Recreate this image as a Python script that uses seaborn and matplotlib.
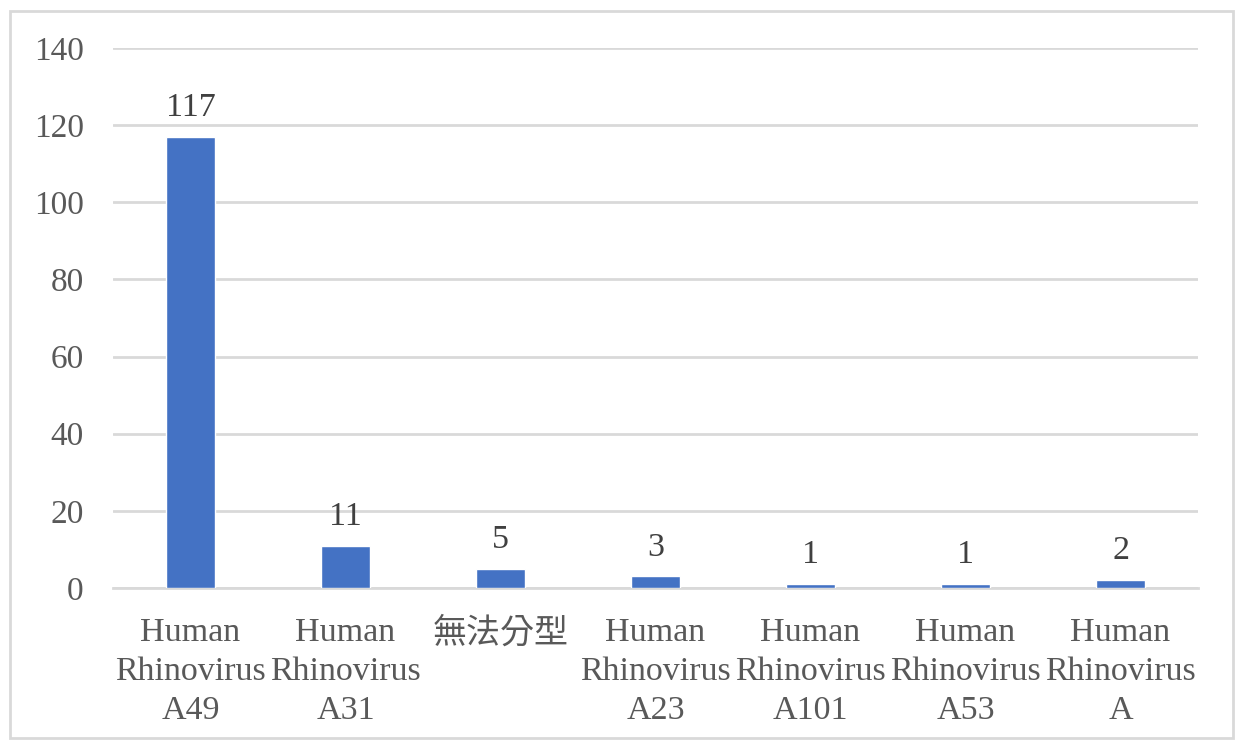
import matplotlib
matplotlib.use('Agg')
import matplotlib.pyplot as plt
import seaborn as sns
import pandas as pd

# 資料
categories = ['Human\nRhinovirus\nA49', 'Human\nRhinovirus\nA31', '無法分型',
              'Human\nRhinovirus\nA23', 'Human\nRhinovirus\nA101',
              'Human\nRhinovirus\nA53', 'Human\nRhinovirus\nA']
counts = [117, 11, 5, 3, 1, 1, 2]
yticks = [0, 20, 40, 60, 80, 100, 120, 140]

sns.set_theme(style='white')
plt.rcParams['font.family'] = ['Liberation Serif', 'Noto Sans CJK TC', 'DejaVu Sans']

df = pd.DataFrame({'type': categories, 'count': counts})

fig = plt.figure(figsize=(12.4, 7.4), dpi=100)
ax = fig.add_axes([113 / 1240, 1 - 588 / 740, (1198 - 113) / 1240, (588 - 48) / 740])

sns.barplot(data=df, x='type', y='count', color='#4472C4', width=0.32,
            saturation=1, ax=ax, zorder=3)

ax.set_ylim(0, 140)
ax.set_yticks(yticks)
ax.grid(axis='y', color='#D9D9D9', linewidth=2, zorder=0)
ax.set_xlabel('')
ax.set_ylabel('')
for s in ['top', 'right', 'left']:
    ax.spines[s].set_visible(False)
ax.spines['bottom'].set_color('#D9D9D9')
ax.spines['bottom'].set_linewidth(2)
ax.tick_params(axis='y', length=0, labelsize=24, labelcolor='#595959', pad=21)
ax.tick_params(axis='x', length=0, labelsize=24.5, labelcolor='#595959', pad=21)
for lbl in ax.get_xticklabels():
    lbl.set_linespacing(1.36)

# 數值標籤
ax.bar_label(ax.containers[0], labels=[str(v) for v in counts],
             fontsize=24.5, color='#404040', padding=10)

# 外框
fig.patches.append(plt.Rectangle((10 / 1240, 2 / 740), 1223 / 1240, 727 / 740,
                                 transform=fig.transFigure, fill=False,
                                 edgecolor='#D9D9D9', linewidth=2))

fig.savefig('out.png', dpi=100)
